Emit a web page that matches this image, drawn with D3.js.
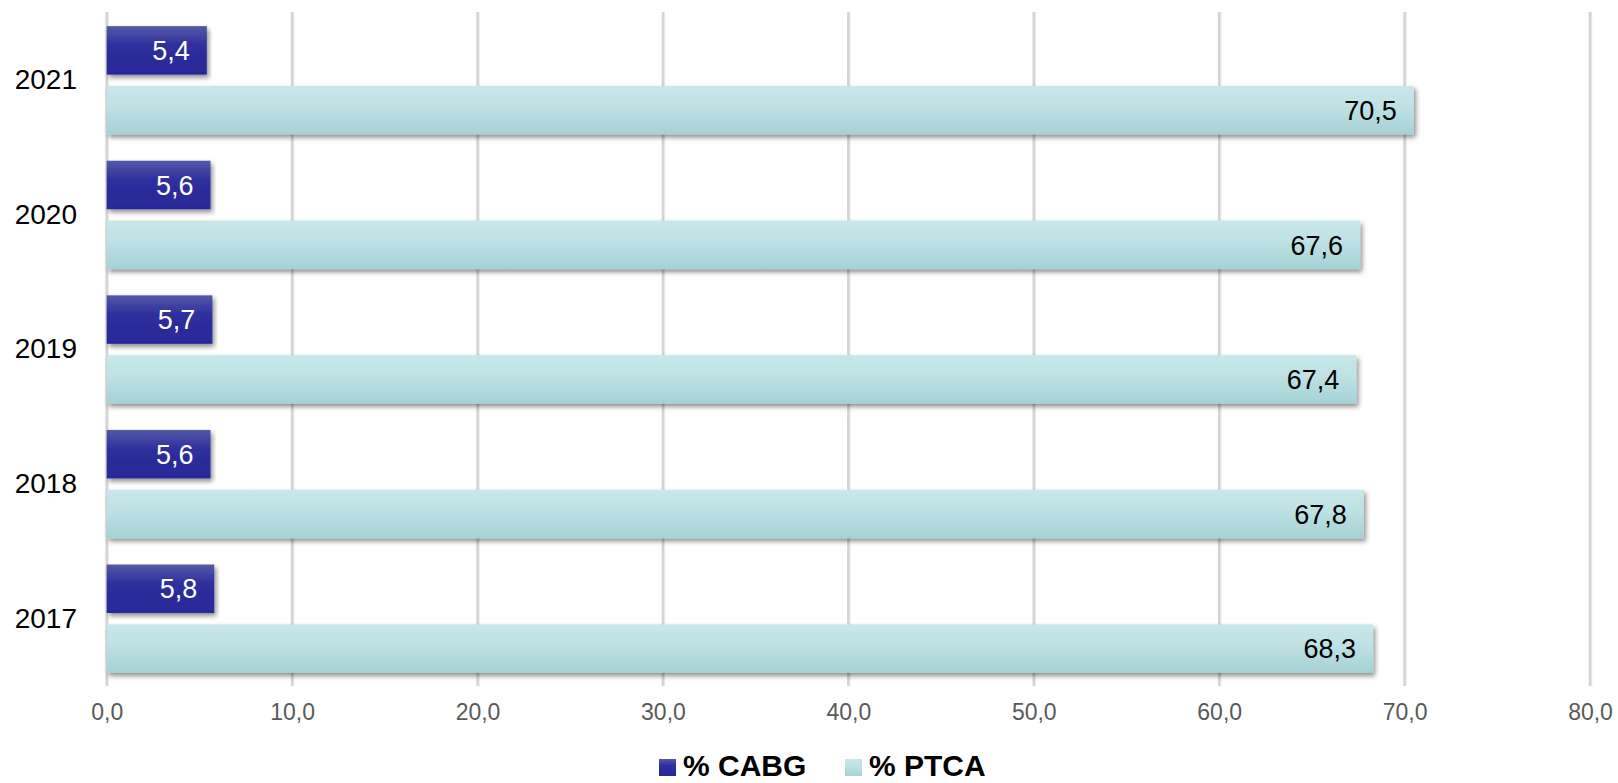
<!DOCTYPE html>
<html>
<head>
<meta charset="utf-8">
<script src="https://cdn.jsdelivr.net/npm/d3@7"></script>
<style>
  body { margin: 0; background: #fff; }
  svg { display: block; font-family: "Liberation Sans", Arial, Helvetica, sans-serif; }
</style>
</head>
<body>
<div class="chart"></div>
<script>
var years = ['2021', '2020', '2019', '2018', '2017'];
var series = ['% CABG', '% PTCA'];
var cabg = [5.4, 5.6, 5.7, 5.6, 5.8];
var ptca = [70.5, 67.6, 67.4, 67.8, 68.3];
var xTicks = [0, 10, 20, 30, 40, 50, 60, 70, 80];

var width = 1618, height = 783;

var svg = d3.select('.chart')
    .append('svg')
    .attr('width', width)
    .attr('height', height);

var defs = svg.append('defs');

createGradient('g0', '#5459a8', '#2e2e9c', '#28289a');
createGradient('g1', '#c8e7ea', '#bfe2e5', '#a6d1d5');

var shadow = defs.append('filter')
    .attr('id', 'shadow')
    .attr('x', '-5%').attr('y', '-20%')
    .attr('width', '110%').attr('height', '160%');
shadow.append('feDropShadow')
    .attr('dx', 2).attr('dy', 3)
    .attr('stdDeviation', 2.5)
    .attr('flood-color', '#000')
    .attr('flood-opacity', 0.45);

function createGradient(id, topColor, midColor, bottomColor) {
    var gradient = defs.append('linearGradient')
        .attr('id', id)
        .attr('x1', 0).attr('y1', 0)
        .attr('x2', 0).attr('y2', 1);
    gradient.append('stop').attr('offset', 0).attr('stop-color', topColor);
    gradient.append('stop').attr('offset', '40%').attr('stop-color', midColor);
    gradient.append('stop').attr('offset', '100%').attr('stop-color', bottomColor);
    return gradient;
}

var x = d3.scaleLinear()
    .domain([0, 80])
    .range([106.7, 1590]);

var y0 = d3.scaleBand()
    .domain(years)
    .range([13, 686])
    .paddingInner(0.195)
    .paddingOuter(0.0975);

var y1 = d3.scaleBand()
    .domain(series)
    .range([0, y0.bandwidth()])
    .paddingInner(0.19);

// grid lines (a faint shadow line on the right, then the line itself)
var grid = svg.append('g');
grid.selectAll('.gs')
    .data(xTicks)
    .enter()
    .append('line')
    .attr('class', 'gs')
    .attr('x1', function(d) { return x(d) + 1.5; })
    .attr('x2', function(d) { return x(d) + 1.5; })
    .attr('y1', 12)
    .attr('y2', 686)
    .attr('stroke', '#ececec')
    .attr('stroke-width', 1.5);
grid.selectAll('.gl')
    .data(xTicks)
    .enter()
    .append('line')
    .attr('class', 'gl')
    .attr('x1', function(d) { return x(d); })
    .attr('x2', function(d) { return x(d); })
    .attr('y1', 12)
    .attr('y2', 686)
    .attr('stroke', '#d4d4d4')
    .attr('stroke-width', 2.5);

// tick labels
var xAxis = d3.axisBottom(x)
    .tickValues(xTicks)
    .tickSize(0)
    .tickPadding(0)
    .tickFormat(function(d) { return d.toFixed(1).replace('.', ','); });

var axisG = svg.append('g')
    .attr('transform', 'translate(0,704)')
    .call(xAxis);
axisG.select('.domain').remove();
axisG.selectAll('text')
    .attr('font-size', 23)
    .attr('font-family', null)
    .attr('fill', '#595959')
    .attr('dy', '0.71em');

// year labels
var yAxis = d3.axisLeft(y0).tickSize(0).tickPadding(0);
var yG = svg.append('g')
    .attr('transform', 'translate(77,0)')
    .call(yAxis);
yG.select('.domain').remove();
yG.selectAll('text')
    .attr('font-size', 28)
    .attr('font-family', null)
    .attr('fill', '#000');

var rows = years.map(function(yr, i) {
    return [
        { year: yr, s: series[0], v: cabg[i], i: 0 },
        { year: yr, s: series[1], v: ptca[i], i: 1 }
    ];
});

var groups = svg.append('g')
    .selectAll('g')
    .data(rows)
    .enter()
    .append('g')
    .attr('transform', function(d) { return 'translate(0,' + y0(d[0].year) + ')'; });

groups.selectAll('rect')
    .data(function(d) { return d; })
    .enter()
    .append('rect')
    .attr('x', x(0))
    .attr('y', function(d) { return y1(d.s); })
    .attr('width', function(d) { return x(d.v) - x(0); })
    .attr('height', y1.bandwidth())
    .attr('fill', function(d) { return 'url(#g' + d.i + ')'; })
    .attr('filter', 'url(#shadow)');

groups.selectAll('text')
    .data(function(d) { return d; })
    .enter()
    .append('text')
    .attr('x', function(d) { return x(d.v) - 17; })
    .attr('y', function(d) { return y1(d.s) + y1.bandwidth() / 2; })
    .attr('dy', '0.36em')
    .attr('text-anchor', 'end')
    .attr('font-size', 27)
    .attr('fill', function(d) { return d.i === 0 ? '#fff' : '#000'; })
    .text(function(d) { return d.v.toFixed(1).replace('.', ','); });

// legend
var legendX = [659, 845];
var legend = svg.append('g')
    .selectAll('g')
    .data(series)
    .enter()
    .append('g')
    .attr('transform', function(d, i) { return 'translate(' + legendX[i] + ',759)'; });

legend.append('rect')
    .attr('width', 17)
    .attr('height', 17)
    .attr('fill', function(d, i) { return 'url(#g' + i + ')'; });

legend.append('text')
    .attr('x', 24)
    .attr('y', 17)
    .attr('font-size', 30)
    .attr('font-weight', 'bold')
    .attr('fill', '#000')
    .text(function(d) { return d; });
</script>
</body>
</html>
